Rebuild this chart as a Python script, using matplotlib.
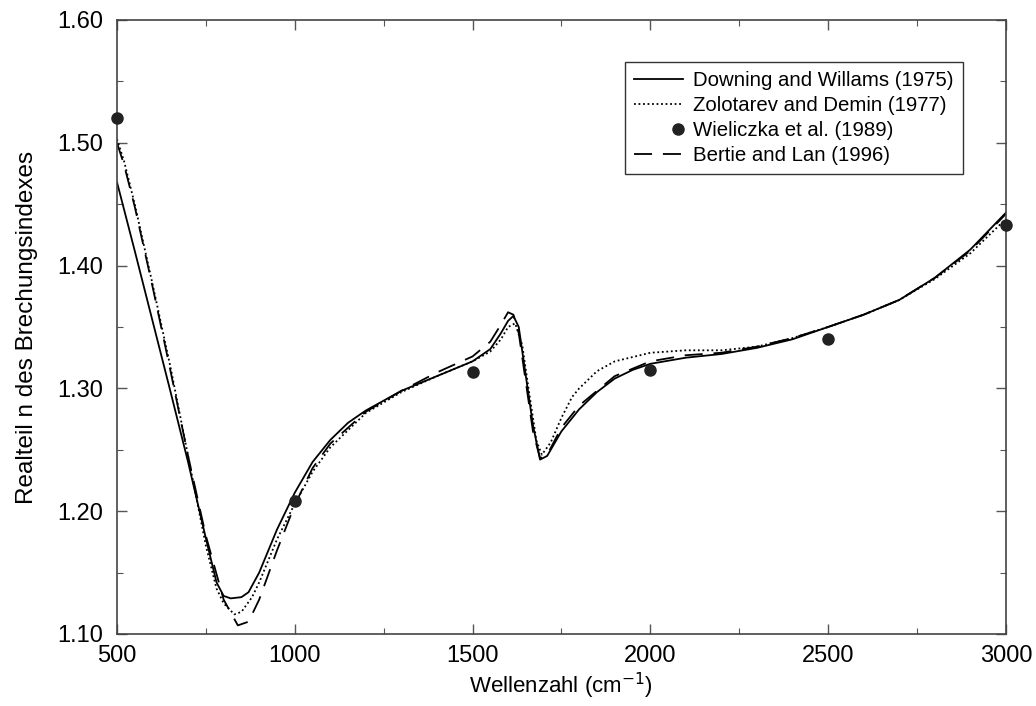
import matplotlib
matplotlib.use('Agg')
import matplotlib.pyplot as plt
from matplotlib.ticker import MultipleLocator
from matplotlib.lines import Line2D

plt.rcParams['font.family'] = ['Liberation Sans', 'DejaVu Sans']

# Downing and Willams (1975)
dw_x = [500, 550, 600, 650, 700, 750, 780, 800, 820, 850, 870, 900, 950, 1000,
        1050, 1100, 1150, 1200, 1300, 1400, 1450, 1500, 1550, 1580, 1600, 1615,
        1630, 1650, 1670, 1690, 1710, 1750, 1800, 1850, 1900, 1950, 2000, 2100,
        2200, 2300, 2400, 2500, 2600, 2700, 2800, 2900, 3000]
dw_n = [1.468, 1.412, 1.355, 1.298, 1.240, 1.178, 1.142, 1.131, 1.129, 1.130,
        1.134, 1.150, 1.185, 1.215, 1.240, 1.258, 1.272, 1.282, 1.298, 1.310,
        1.316, 1.322, 1.332, 1.345, 1.355, 1.359, 1.350, 1.310, 1.270, 1.242,
        1.245, 1.265, 1.283, 1.297, 1.308, 1.315, 1.320, 1.325, 1.328, 1.333,
        1.340, 1.350, 1.360, 1.372, 1.390, 1.413, 1.443]

# Zolotarev and Demin (1977)
zd_x = [500, 520, 550, 600, 650, 700, 750, 780, 800, 830, 850, 880, 900, 950,
        1000, 1050, 1100, 1200, 1300, 1400, 1500, 1550, 1580, 1600, 1620, 1640,
        1660, 1680, 1695, 1720, 1750, 1780, 1800, 1850, 1900, 2000, 2100, 2200,
        2300, 2400, 2500, 2600, 2700, 2800, 2900, 3000]
zd_n = [1.503, 1.485, 1.450, 1.385, 1.318, 1.245, 1.172, 1.137, 1.125, 1.116,
        1.118, 1.130, 1.142, 1.177, 1.206, 1.232, 1.252, 1.280, 1.297, 1.310,
        1.322, 1.330, 1.340, 1.350, 1.353, 1.335, 1.295, 1.257, 1.246, 1.256,
        1.276, 1.293, 1.300, 1.314, 1.322, 1.329, 1.331, 1.331, 1.334, 1.341,
        1.350, 1.360, 1.372, 1.389, 1.410, 1.438]

# Wieliczka et al. (1989)
wl_x = [500, 1000, 1500, 2000, 2500, 3000]
wl_n = [1.520, 1.208, 1.313, 1.315, 1.340, 1.433]

# Bertie and Lan (1996)
bl_x = [500, 520, 550, 600, 650, 700, 750, 800, 840, 870, 900, 950, 1000, 1050,
        1100, 1200, 1300, 1400, 1500, 1550, 1580, 1600, 1615, 1630, 1650, 1670,
        1690, 1710, 1750, 1800, 1900, 2000, 2100, 2200, 2300, 2400, 2500, 2600,
        2700, 2800, 2900, 3000]
bl_n = [1.500, 1.482, 1.448, 1.383, 1.315, 1.245, 1.180, 1.128, 1.107, 1.110,
        1.128, 1.168, 1.205, 1.235, 1.255, 1.281, 1.298, 1.313, 1.326, 1.338,
        1.352, 1.362, 1.360, 1.345, 1.305, 1.265, 1.243, 1.246, 1.268, 1.286,
        1.310, 1.322, 1.327, 1.329, 1.334, 1.341, 1.350, 1.360, 1.372, 1.390,
        1.412, 1.442]


class RightDot:
    # legend handle with the dot at the right end, next to the text
    def legend_artist(self, legend, orig_handle, fontsize, handlebox):
        x0, y0 = handlebox.xdescent, handlebox.ydescent
        w, h = handlebox.width, handlebox.height
        m = Line2D([x0 + w - 0.25 * fontsize], [y0 + h / 2], marker='o', ls='none',
                   color='#222222', markersize=8,
                   transform=handlebox.get_transform())
        handlebox.add_artist(m)
        return m


fig = plt.figure(figsize=(10.36, 7.06), dpi=100)
ax = fig.add_axes([0.1129, 0.102, 0.858, 0.8697])

l1, = ax.plot(dw_x, dw_n, color='black', lw=1.3, label='Downing and Willams (1975)')
l2, = ax.plot(zd_x, zd_n, color='black', lw=1.3, linestyle=(0, (1, 1.5)),
              label='Zolotarev and Demin (1977)')
pts, = ax.plot(wl_x, wl_n, 'o', color='#222222', markersize=8, clip_on=False,
               zorder=5, label='Wieliczka et al. (1989)')
l4, = ax.plot(bl_x, bl_n, color='black', lw=1.3, linestyle=(0, (10, 6)),
              label='Bertie and Lan (1996)')

ax.set_xlim(500, 3000)
ax.set_ylim(1.10, 1.60)
ax.xaxis.set_major_locator(MultipleLocator(500))
ax.xaxis.set_minor_locator(MultipleLocator(250))
ax.yaxis.set_major_locator(MultipleLocator(0.10))
ax.yaxis.set_minor_locator(MultipleLocator(0.05))
ax.set_yticklabels(['%.2f' % v for v in ax.get_yticks()])
ax.tick_params(which='both', direction='in', top=True, right=True,
               labelsize=17, color='#555555')
ax.tick_params(which='major', length=7, width=1)
ax.tick_params(axis='x', which='major', pad=8)
ax.tick_params(axis='y', which='major', pad=10)
ax.tick_params(which='minor', length=4, width=0.8)
for s in ax.spines.values():
    s.set_color('#444444')
    s.set_linewidth(1.2)

ax.set_xlabel('Wellenzahl (cm$^{-1}$)', fontsize=16, labelpad=3)
ax.set_ylabel('Realteil n des Brechungsindexes', fontsize=17.5, labelpad=14)

leg = ax.legend(handles=[l1, l2, pts, l4],
                loc='upper right', bbox_to_anchor=(0.952, 0.932), fontsize=14.7,
                fancybox=False, edgecolor='#333333', framealpha=1,
                handlelength=2.4, handletextpad=0.5, borderpad=0.45,
                labelspacing=0.3, borderaxespad=0,
                handler_map={pts: RightDot()})
leg.get_frame().set_linewidth(1.0)

plt.savefig('out.png', dpi=100)
